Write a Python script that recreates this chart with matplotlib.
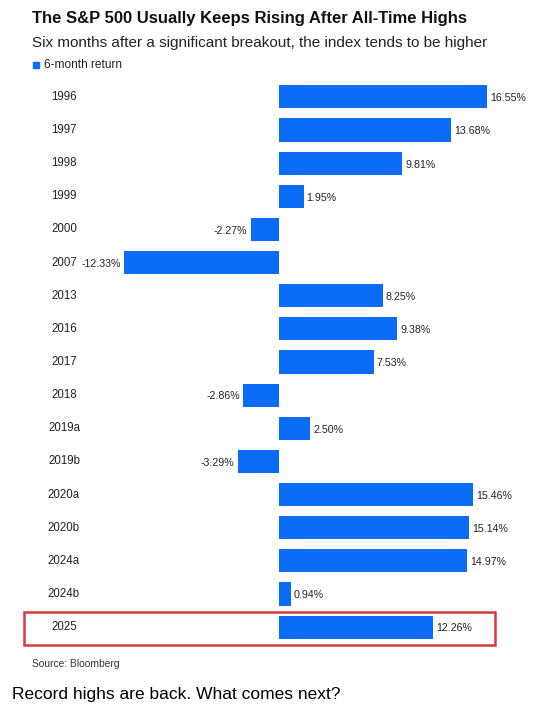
import matplotlib.pyplot as plt
from matplotlib.patches import Rectangle
import matplotlib.transforms as mtransforms

plt.rcParams['font.family'] = ['Liberation Sans', 'DejaVu Sans']

# data
years = ["1996", "1997", "1998", "1999", "2000", "2007", "2013", "2016", "2017",
         "2018", "2019a", "2019b", "2020a", "2020b", "2024a", "2024b", "2025"]
returns = [16.55, 13.68, 9.81, 1.95, -2.27, -12.33, 8.25, 9.38, 7.53,
           -2.86, 2.50, -3.29, 15.46, 15.14, 14.97, 0.94, 12.26]
value_labels = ["16.55%", "13.68%", "9.81%", "1.95%", "-2.27%", "-12.33%", "8.25%",
                "9.38%", "7.53%", "-2.86%", "2.50%", "-3.29%", "15.46%", "15.14%",
                "14.97%", "0.94%", "12.26%"]
highlight = "2025"

BLUE = "#0a6cf7"
W, H = 560, 719

fig = plt.figure(figsize=(W / 100, H / 100), dpi=100)
# axes placed in pixel terms: x 24..540, y 80..645
ax = fig.add_axes([24 / W, 1 - 645 / H, 516 / W, 565 / H])

pos = list(range(len(years)))
ax.barh(pos, returns, height=0.7, color=BLUE)
ax.set_xlim(-20.29, 20.76)
ax.set_ylim(16.54, -0.51)
ax.axis("off")

trans = mtransforms.blended_transform_factory(ax.transAxes, ax.transData)
for i, (yr, v, lab) in enumerate(zip(years, returns, value_labels)):
    ax.text(0.0775, i, yr, transform=trans, ha="center", va="center",
            fontsize=8.3, color="#222222")
    if v >= 0:
        ax.text(v + 0.25, i + 0.04, lab, ha="left", va="center", fontsize=7.7,
                color="#222222")
    else:
        ax.text(v - 0.25, i + 0.04, lab, ha="right", va="center", fontsize=7.7,
                color="#222222")

hi = years.index(highlight)
ax.add_patch(Rectangle((0, hi - 0.45), 0.913, 1.0, transform=trans, fill=False,
                       edgecolor="#d8393c", linewidth=1.8, clip_on=False))

# header
fig.text(32 / W, 1 - 18 / H, "The S&P 500 Usually Keeps Rising After All-Time Highs",
         fontsize=12, fontweight="bold", ha="left", va="center", color="#111111")
fig.text(32 / W, 1 - 43 / H,
         "Six months after a significant breakout, the index tends to be higher",
         fontsize=11, ha="left", va="center", color="#222222")
fig.patches.append(Rectangle((33 / W, 1 - 68 / H), 6 / W, 6 / H, color=BLUE,
                             transform=fig.transFigure, figure=fig))
fig.text(44 / W, 1 - 65 / H, "6-month return", fontsize=8.6, ha="left", va="center",
         color="#222222")

# footer
fig.text(32 / W, 1 - 664 / H, "Source: Bloomberg", fontsize=7.4, ha="left",
         va="center", color="#333333")
fig.text(12 / W, 1 - 694 / H, "Record highs are back. What comes next?",
         fontsize=12.5, ha="left", va="center", color="black")

fig.savefig("out.png", dpi=100, facecolor="white")
